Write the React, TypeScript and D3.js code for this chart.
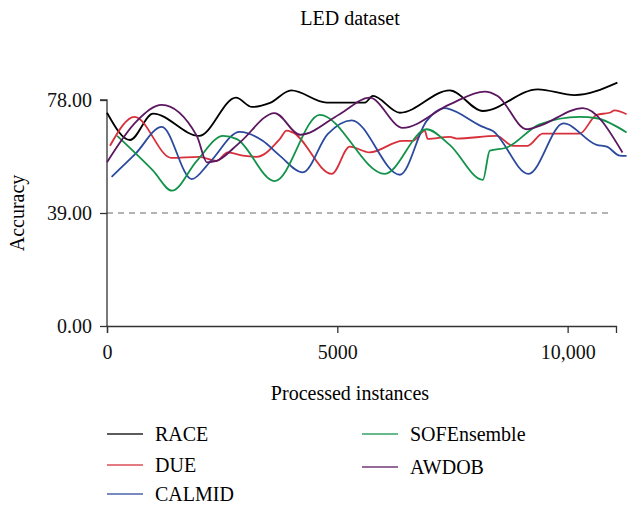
import { useRef, useEffect } from 'react';
import * as d3 from 'd3';

const W = 627;
const H = 505;

// series: [processed instances, accuracy]
const race: [number, number][] = [
    [0, 73.6], [500, 64.2], [1000, 73.3], [2000, 65.6], [2800, 78.8], [3150, 75.6],
    [3540, 77.0], [4000, 81.3], [4770, 77.1], [5600, 77.1], [5770, 79.4], [6360, 73.6],
    [7440, 81.3], [8160, 74.2], [9350, 81.7], [10150, 79.7], [11080, 84.0]
];
const due: [number, number][] = [
    [65, 62.2], [600, 72.2], [1400, 58.0], [2000, 58.4], [2380, 57.0], [2620, 59.9],
    [2950, 58.8], [3250, 58.4], [3750, 64.5], [3900, 67.4], [4030, 66.8], [4880, 52.5],
    [5270, 61.9], [5700, 59.9], [6420, 63.9], [6640, 63.9], [6900, 67.4], [6960, 64.6],
    [7440, 65.3], [7590, 64.7], [8460, 65.6], [8810, 62.2], [9130, 62.2], [9460, 66.4],
    [10260, 66.4], [10630, 72.9], [10910, 73.6], [11020, 74.4], [11280, 73.1]
];
const calmid: [number, number][] = [
    [100, 51.5], [610, 59.3], [1190, 68.7], [1840, 50.7], [2230, 56.5], [2880, 67.0],
    [3380, 63.9], [3750, 58.8], [4250, 53.0], [4790, 66.2], [5310, 71.0], [6360, 52.2],
    [6940, 70.8], [7330, 75.2], [7400, 75.0], [8160, 68.7], [8370, 67.4], [9150, 52.5],
    [9910, 69.9], [10630, 62.5], [10850, 61.9], [11130, 58.8], [11280, 58.7]
];
const sofEnsemble: [number, number][] = [
    [220, 65.6], [1000, 53.6], [1410, 46.7], [1950, 57.0], [2520, 65.6], [2820, 64.5],
    [3640, 50.0], [4620, 72.9], [6030, 52.5], [6940, 67.9], [7440, 62.5], [8160, 50.4],
    [8310, 60.5], [8680, 61.6], [9390, 69.6], [10260, 72.2], [10630, 71.7], [11280, 66.8]
];
const awdob: [number, number][] = [
    [0, 56.5], [650, 70.8], [1190, 76.3], [1950, 65.6], [2170, 56.5], [2380, 57.0],
    [2880, 63.3], [3640, 73.5], [4190, 66.0], [5050, 73.1], [5700, 78.8], [6420, 68.4],
    [7440, 76.5], [8200, 80.9], [8480, 79.4], [9110, 67.9], [9390, 69.1], [10330, 75.2],
    [11190, 59.9]
];

const seriesNames = ['RACE', 'DUE', 'CALMID', 'SOFEnsemble', 'AWDOB'];
const seriesData = [race, due, calmid, sofEnsemble, awdob];
const colors = ['#000000', '#d7303b', '#2b4a9e', '#13924a', '#5b1760'];

const yTicks = [0, 39, 78];
const xTicks = [0, 5000, 10000];

const margin = { left: 107, right: 11, top: 100, bottom: 179 };
const font = '"Liberation Serif", "Times New Roman", serif';

const App = () => {
    const ref = useRef<SVGSVGElement>(null);

    useEffect(() => {
        if (!ref.current) return;
        const svg = d3.select(ref.current);
        svg.selectAll('*').remove();

        const x = d3.scaleLinear().domain([0, 11050]).range([margin.left, W - margin.right]);
        const y = d3.scaleLinear().domain([0, 78]).range([H - margin.bottom, margin.top]);

        svg.append('rect').attr('width', W).attr('height', H).attr('fill', 'white');

        // dashed reference line at 39
        svg.append('line')
            .attr('x1', x(0)).attr('x2', x(10900))
            .attr('y1', y(39)).attr('y2', y(39))
            .attr('stroke', '#9a9a9a')
            .attr('stroke-width', 1.3)
            .attr('stroke-dasharray', '6,5');

        const xAxis = svg.append('g')
            .attr('transform', `translate(0, ${y(0)})`)
            .call(d3.axisBottom(x).tickValues(xTicks).tickSize(7).tickPadding(12)
                .tickFormat(d => (+d >= 10000 ? d3.format(',')(+d) : String(d))));
        xAxis.select('.domain').attr('stroke', '#333').attr('stroke-width', 1.3);
        xAxis.selectAll('line').attr('stroke', '#333').attr('stroke-width', 1.3);
        xAxis.selectAll('text').style('font-family', font).style('font-size', '20px').attr('fill', '#111');

        const yAxis = svg.append('g')
            .attr('transform', `translate(${x(0)}, 0)`)
            .call(d3.axisLeft(y).tickValues(yTicks).tickSize(7).tickPadding(8)
                .tickFormat(d3.format('.2f')));
        yAxis.select('.domain').attr('stroke', '#333').attr('stroke-width', 1.3)
            .attr('d', `M-7,${y(78)}H0V${y(0)}`);
        yAxis.selectAll('line').attr('stroke', '#333').attr('stroke-width', 1.3);
        yAxis.selectAll('text').style('font-family', font).style('font-size', '20px').attr('fill', '#111');

        const line = d3.line<[number, number]>()
            .x(d => x(d[0]))
            .y(d => y(d[1]))
            .curve(d3.curveMonotoneX);

        seriesData.forEach((s, i) => {
            svg.append('path')
                .datum(s)
                .attr('d', line)
                .attr('fill', 'none')
                .attr('stroke', colors[i])
                .attr('stroke-width', 1.8);
        });

        // title & labels
        svg.append('text')
            .attr('x', 350).attr('y', 25)
            .attr('text-anchor', 'middle')
            .style('font-family', font).style('font-size', '20px')
            .text('LED dataset');

        svg.append('text')
            .attr('transform', `translate(24, ${y(39)}) rotate(-90)`)
            .attr('text-anchor', 'middle')
            .style('font-family', font).style('font-size', '20px')
            .text('Accuracy');

        svg.append('text')
            .attr('x', 350).attr('y', 400)
            .attr('text-anchor', 'middle')
            .style('font-family', font).style('font-size', '20px')
            .text('Processed instances');

        // legend
        const legendPos = [[107, 434], [107, 465], [107, 494], [362, 434], [362, 467]];
        seriesNames.forEach((name, i) => {
            const [lx, ly] = legendPos[i];
            svg.append('line')
                .attr('x1', lx).attr('x2', lx + 36)
                .attr('y1', ly).attr('y2', ly)
                .attr('stroke', colors[i]).attr('stroke-width', 1.6).attr('opacity', 0.85);
            svg.append('text')
                .attr('x', lx + 48).attr('y', ly)
                .attr('dy', '0.35em')
                .style('font-family', font).style('font-size', '20px')
                .text(name);
        });
    }, []);

    return (
        <svg
            ref={ref}
            width={W}
            height={H}
            style={{ position: 'absolute', left: 0, top: 0 }}
        ></svg>
    );
};

export default App;
